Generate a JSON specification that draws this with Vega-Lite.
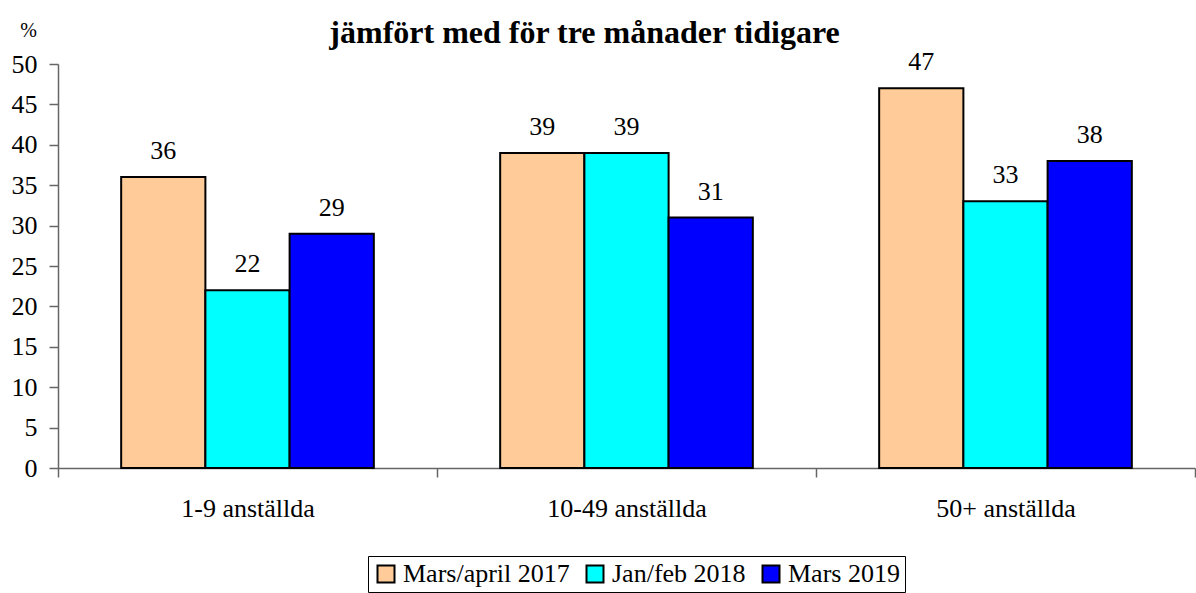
{
  "$schema": "https://vega.github.io/schema/vega-lite/v6.json",
  "autosize": "none",
  "width": 1137,
  "height": 404,
  "padding": {"left": 58, "top": 64, "right": 1, "bottom": 125},
  "background": "white",
  "config": {
    "view": {"stroke": null}
  },
  "title": {
    "text": "jämfört med för tre månader tidigare",
    "font": "Liberation Serif",
    "fontSize": 32,
    "fontWeight": "bold",
    "color": "black",
    "anchor": "middle",
    "dx": -42,
    "offset": -30
  },
  "data": {
    "values": [
      {"grupp": "1-9 anställda", "period": "Mars/april 2017", "value": 36},
      {"grupp": "1-9 anställda", "period": "Jan/feb 2018", "value": 22},
      {"grupp": "1-9 anställda", "period": "Mars 2019", "value": 29},
      {"grupp": "10-49 anställda", "period": "Mars/april 2017", "value": 39},
      {"grupp": "10-49 anställda", "period": "Jan/feb 2018", "value": 39},
      {"grupp": "10-49 anställda", "period": "Mars 2019", "value": 31},
      {"grupp": "50+ anställda", "period": "Mars/april 2017", "value": 47},
      {"grupp": "50+ anställda", "period": "Jan/feb 2018", "value": 33},
      {"grupp": "50+ anställda", "period": "Mars 2019", "value": 38}
    ]
  },
  "encoding": {
    "x": {
      "field": "grupp",
      "type": "nominal",
      "sort": null,
      "scale": {"paddingInner": 0, "paddingOuter": 0},
      "axis": {
        "title": null,
        "labelAngle": 0,
        "labelFont": "Liberation Serif",
        "labelFontSize": 26,
        "labelColor": "black",
        "labelPadding": 18,
        "tickBand": "extent",
        "tickSize": 9,
        "tickColor": "#666",
        "domainColor": "#666",
        "domainWidth": 1.5,
        "tickWidth": 1.5
      }
    },
    "xOffset": {
      "field": "period",
      "type": "nominal",
      "sort": ["Mars/april 2017", "Jan/feb 2018", "Mars 2019"],
      "scale": {"paddingInner": 0, "paddingOuter": 0.75}
    },
    "y": {
      "field": "value",
      "type": "quantitative",
      "scale": {"domain": [0, 50], "nice": false},
      "axis": {
        "title": "%",
        "titleAngle": 0,
        "titleFont": "Liberation Serif",
        "titleFontSize": 20,
        "titleFontWeight": "normal",
        "titleColor": "black",
        "titleX": -30,
        "titleY": -34,
        "titleAlign": "center",
        "titleBaseline": "middle",
        "values": [0, 5, 10, 15, 20, 25, 30, 35, 40, 45, 50],
        "grid": false,
        "labelFont": "Liberation Serif",
        "labelFontSize": 26,
        "labelColor": "black",
        "labelPadding": 12,
        "tickSize": 9,
        "tickColor": "#666",
        "domainColor": "#666",
        "domainWidth": 1.5,
        "tickWidth": 1.5
      }
    }
  },
  "layer": [
    {
      "mark": {"type": "bar", "stroke": "black", "strokeWidth": 2},
      "encoding": {
        "color": {
          "field": "period",
          "type": "nominal",
          "sort": ["Mars/april 2017", "Jan/feb 2018", "Mars 2019"],
          "scale": {
            "domain": ["Mars/april 2017", "Jan/feb 2018", "Mars 2019"],
            "range": ["#FFCC99", "#00FFFF", "#0000FF"]
          },
          "legend": {
            "title": null,
            "orient": "none",
            "direction": "horizontal",
            "legendX": 310,
            "legendY": 492,
            "labelFont": "Liberation Serif",
            "labelFontSize": 26,
            "labelColor": "black",
            "labelLimit": 400,
            "symbolType": "square",
            "symbolSize": 289,
            "symbolStrokeColor": "black",
            "symbolStrokeWidth": 2,
            "symbolOpacity": 1,
            "strokeColor": "black",
            "padding": 5,
            "columnPadding": 12,
            "labelOffset": 4
          }
        }
      }
    },
    {
      "mark": {
        "type": "text",
        "baseline": "alphabetic",
        "dy": -18,
        "fontSize": 26,
        "font": "Liberation Serif",
        "color": "black"
      },
      "encoding": {
        "text": {"field": "value", "type": "quantitative"}
      }
    }
  ]
}
